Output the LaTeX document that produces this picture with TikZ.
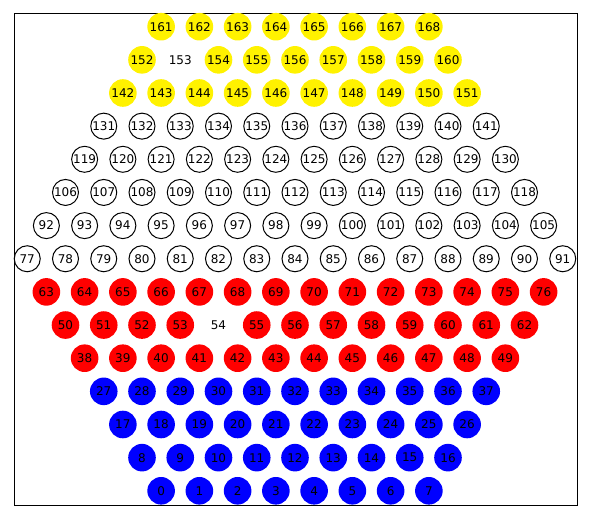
\documentclass[tikz,border=0pt]{standalone}
\usepackage{fontspec}
\setmainfont{DejaVu Sans}
\usepackage{tikz}

\begin{document}
\begin{tikzpicture}[x=1pt,y=-1pt,
    cell/.style={circle,inner sep=0pt,minimum size=27.6pt,font=\fontsize{12}{14}\selectfont},
    bluecell/.style={fill=blue},
    redcell/.style={fill=red},
    whitecell/.style={draw=black,line width=1pt,fill=white,minimum size=26pt},
    yellowcell/.style={fill=yellow},
    gapcell/.style={fill=none,draw=none}]
      \useasboundingbox (0,0) rectangle (590,518);
      \draw[line width=0.9pt] (14,13.3) rectangle (577,505.3);
      % rows from the bottom: row/first index/count/style
      \foreach \r/\s/\n/\rowstyle in {0/0/8/bluecell,1/8/9/bluecell,2/17/10/bluecell,3/27/11/bluecell,
          4/38/12/redcell,5/50/13/redcell,6/63/14/redcell,
          7/77/15/whitecell,8/92/14/whitecell,9/106/13/whitecell,10/119/12/whitecell,11/131/11/whitecell,
          12/142/10/yellowcell,13/152/9/yellowcell,14/161/8/yellowcell}{
        \foreach \k in {1,...,\n}{
          \pgfmathtruncatemacro{\idx}{\s+\k-1}
          \pgfmathsetmacro{\cx}{295+38.25*(\k-1-(\n-1)/2)}
          \pgfmathsetmacro{\cy}{490.8-33.15*\r}
          \ifnum\idx=54 \def\cellstyle{gapcell}\else
            \ifnum\idx=153 \def\cellstyle{gapcell}\else\let\cellstyle\rowstyle\fi\fi
          \node[cell,\cellstyle] (c\idx) at (\cx,\cy) {\idx};
        }
      }
    \end{tikzpicture}
\end{document}
